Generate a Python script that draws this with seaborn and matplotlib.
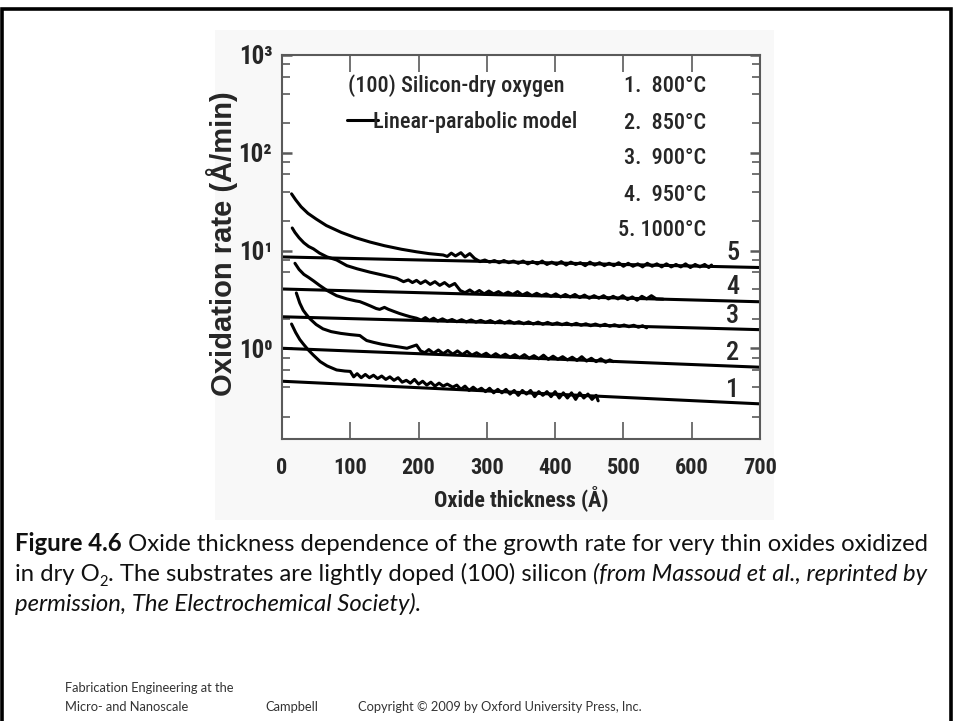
import matplotlib
matplotlib.use("Agg")
import matplotlib.pyplot as plt
import numpy as np
import pandas as pd
import seaborn as sns
from matplotlib.lines import Line2D
from matplotlib.patches import Rectangle
from matplotlib.ticker import FixedLocator, LogLocator, NullFormatter

# ---------------------------------------------------------------- data
temps = ["800°C", "850°C", "900°C", "950°C", "1000°C"]
curve_ids = ["1", "2", "3", "4", "5"]

# measured oxidation rate (Å/min) versus oxide thickness (Å)
x_800 = [14, 20, 26, 31, 38, 46, 56, 66, 80, 92, 100, 105, 110, 116, 122, 128, 134, 140, 146, 152,
         158, 164, 170, 176, 182, 188, 194, 200, 206, 212, 218, 224, 230, 236, 242, 250, 256, 262,
         268, 274, 280, 286, 292, 298, 304, 310, 316, 322, 328, 334, 340, 346, 352, 358, 364, 370,
         376, 382, 388, 394, 400, 406, 412, 418, 424, 430, 436, 442, 448, 454, 460, 463]
r_800 = [1.77, 1.45, 1.23, 1.11, 0.97, 0.85, 0.73, 0.66, 0.60, 0.585, 0.58, 0.51, 0.55, 0.50, 0.54,
         0.50, 0.53, 0.49, 0.52, 0.48, 0.51, 0.47, 0.50, 0.45, 0.47, 0.44, 0.48, 0.43, 0.46, 0.42,
         0.45, 0.41, 0.44, 0.41, 0.43, 0.40, 0.42, 0.38, 0.41, 0.37, 0.40, 0.37, 0.39, 0.36, 0.39,
         0.35, 0.38, 0.35, 0.38, 0.34, 0.37, 0.33, 0.37, 0.34, 0.37, 0.32, 0.36, 0.33, 0.36, 0.32,
         0.36, 0.31, 0.35, 0.31, 0.35, 0.30, 0.35, 0.31, 0.34, 0.30, 0.33, 0.29]

x_850 = [21, 26, 31, 36, 41, 50, 60, 72, 86, 100, 114, 119, 124, 134, 146, 160, 172, 183, 190, 197,
         203, 209, 215, 222, 229, 236, 243, 250, 257, 264, 271, 278, 285, 292, 299, 306, 313, 320,
         327, 334, 341, 348, 355, 362, 369, 376, 383, 390, 397, 404, 411, 418, 425, 432, 439, 446,
         453, 460, 467, 474, 480, 485]
r_850 = [3.68, 2.9, 2.45, 2.2, 2.0, 1.75, 1.58, 1.48, 1.42, 1.38, 1.35, 1.27, 1.20, 1.15, 1.10, 1.06,
         1.03, 1.0, 1.04, 1.08, 0.94, 0.90, 0.97, 0.89, 0.96, 0.88, 0.95, 0.87, 0.94, 0.86, 0.93,
         0.85, 0.90, 0.84, 0.89, 0.82, 0.88, 0.82, 0.87, 0.81, 0.86, 0.80, 0.86, 0.79, 0.84, 0.78,
         0.85, 0.77, 0.83, 0.77, 0.82, 0.76, 0.81, 0.75, 0.82, 0.74, 0.79, 0.73, 0.78, 0.72, 0.76,
         0.73]

x_900 = [19, 25, 32, 39, 46, 55, 66, 80, 95, 108, 114, 122, 130, 138, 143, 150, 156, 164, 172, 180,
         188, 197, 204, 210, 216, 222, 228, 235, 242, 249, 256, 263, 270, 277, 284, 291, 298, 305,
         312, 319, 326, 333, 340, 347, 354, 361, 368, 375, 382, 389, 396, 403, 410, 417, 424, 431,
         438, 445, 452, 459, 466, 473, 480, 487, 494, 501, 508, 515, 522, 528, 534]
r_900 = [7.4, 6.4, 5.7, 5.3, 4.9, 4.4, 3.9, 3.45, 3.2, 3.05, 3.0, 2.85, 2.7, 2.55, 2.5, 2.62, 2.5,
         2.38, 2.27, 2.18, 2.1, 2.03, 1.94, 2.06, 1.92, 2.03, 1.90, 2.0, 1.89, 1.97, 1.87, 1.96,
         1.86, 1.95, 1.85, 1.93, 1.84, 1.92, 1.82, 1.91, 1.81, 1.90, 1.80, 1.87, 1.78, 1.86, 1.77,
         1.85, 1.76, 1.84, 1.75, 1.82, 1.74, 1.81, 1.73, 1.80, 1.72, 1.78, 1.70, 1.77, 1.69, 1.76,
         1.68, 1.74, 1.67, 1.73, 1.66, 1.72, 1.64, 1.70, 1.62]

x_950 = [15, 19, 25, 32, 39, 46, 55, 66, 80, 95, 110, 129, 148, 168, 178, 185, 191, 197, 203, 210,
         217, 224, 231, 238, 245, 253, 261, 268, 275, 282, 289, 296, 303, 310, 317, 324, 331, 338,
         345, 352, 359, 366, 373, 380, 387, 394, 401, 408, 415, 422, 429, 436, 443, 450, 457, 464,
         471, 478, 485, 492, 499, 506, 513, 520, 527, 534, 541, 548, 558]
r_950 = [17.0, 15.3, 13.5, 12.0, 11.0, 10.4, 9.4, 8.6, 8.0, 7.0, 6.5, 6.0, 5.6, 5.2, 4.8, 5.0, 4.7,
         4.95, 4.6, 4.9, 4.5, 4.8, 4.4, 4.7, 4.3, 4.6, 3.9, 3.7, 3.95, 3.65, 3.9, 3.6, 3.85, 3.6,
         3.8, 3.55, 3.75, 3.55, 3.8, 3.5, 3.7, 3.45, 3.65, 3.45, 3.6, 3.4, 3.6, 3.35, 3.55, 3.35,
         3.55, 3.3, 3.5, 3.25, 3.45, 3.25, 3.45, 3.2, 3.4, 3.2, 3.45, 3.15, 3.35, 3.1, 3.4, 3.2,
         3.45, 3.2, 3.18]

x_1000 = [14, 20, 28, 38, 50, 65, 87, 108, 129, 150, 175, 197, 215, 236, 242, 248, 254, 262, 268,
          275, 282, 290, 297, 304, 311, 318, 325, 332, 339, 346, 353, 360, 367, 374, 381, 388, 395,
          402, 409, 416, 423, 430, 437, 444, 451, 458, 465, 472, 479, 486, 493, 500, 507, 514, 521,
          528, 535, 542, 549, 556, 563, 570, 577, 584, 591, 598, 605, 612, 619, 625, 629]
r_1000 = [38, 33, 28, 24, 21, 18, 15.3, 13.5, 12.2, 11.2, 10.3, 9.7, 9.3, 9.0, 8.7, 9.4, 8.8, 9.5,
          8.6, 9.3, 8.3, 7.7, 8.0, 7.6, 7.9, 7.5, 7.9, 7.5, 7.8, 7.4, 7.8, 7.3, 7.7, 7.3, 7.8, 7.2,
          7.6, 7.2, 7.7, 7.1, 7.6, 7.2, 7.5, 7.0, 7.6, 7.1, 7.5, 7.0, 7.4, 7.0, 7.5, 6.9, 7.4, 6.9,
          7.3, 6.8, 7.4, 6.9, 7.3, 6.8, 7.3, 6.8, 7.2, 6.8, 7.3, 6.7, 7.2, 6.8, 7.2, 6.7, 7.1]

# linear-parabolic model rate at 0 Å and 700 Å
model_x = [0, 700]
model_800 = [0.46, 0.27]
model_850 = [1.0, 0.64]
model_900 = [2.1, 1.55]
model_950 = [4.04, 2.99]
model_1000 = [8.6, 6.7]

x_ticks = [0, 100, 200, 300, 400, 500, 600, 700]
y_ticks = [1, 10, 100, 1000]
y_tick_labels = ["10\u2070", "10\u00b9", "10\u00b2", "10\u00b3"]

meas = pd.concat([
    pd.DataFrame({"thickness": xs, "rate": rs, "curve": cid})
    for xs, rs, cid in zip([x_800, x_850, x_900, x_950, x_1000],
                           [r_800, r_850, r_900, r_950, r_1000], curve_ids)
], ignore_index=True)
model = pd.concat([
    pd.DataFrame({"thickness": model_x, "rate": rs, "curve": cid})
    for rs, cid in zip([model_800, model_850, model_900, model_950, model_1000], curve_ids)
], ignore_index=True)

# ---------------------------------------------------------------- style
sns.set_theme(style="white")
NARROW = ["Roboto Condensed", "Noto Sans Condensed", "DejaVu Sans Condensed", "DejaVu Sans"]
plt.rcParams["font.family"] = NARROW
plt.rcParams["font.stretch"] = "condensed"

W, H = 954, 721
fig = plt.figure(figsize=(W / 100, H / 100), dpi=100)
fig.patch.set_facecolor("white")


def fx(px):
    return px / W


def fy(py):
    return 1 - py / H


# slide frame and the panel behind the figure
fig.add_artist(Rectangle((fx(2), fy(760)), fx(949), fy(9) - fy(760), transform=fig.transFigure,
                         fill=False, lw=2.6, ec="black"))
fig.add_artist(Rectangle((fx(215), fy(520)), fx(774) - fx(215), fy(30) - fy(520),
                         transform=fig.transFigure, fc="#f8f8f8", ec="none", zorder=0))

ax = fig.add_axes([fx(282), fy(439), fx(760) - fx(282), fy(55) - fy(439)])
ax.set_facecolor("white")

line_kw = dict(color="black", linewidth=2.2, estimator=None, sort=False, legend=False)
sns.lineplot(data=model, x="thickness", y="rate", units="curve", ax=ax, **line_kw)
sns.lineplot(data=meas, x="thickness", y="rate", units="curve", ax=ax, **line_kw)

ax.set_yscale("log")
ax.set_xlim(0, 700)
ax.set_ylim(0.118, 1000)

ax.xaxis.set_major_locator(FixedLocator(x_ticks))
ax.set_yticks(y_ticks)
ax.set_yticklabels(y_tick_labels)
ax.yaxis.set_minor_locator(LogLocator(base=10, subs=(2, 4, 6, 8), numticks=10))
ax.yaxis.set_minor_formatter(NullFormatter())

for s in ax.spines.values():
    s.set_color("#5a5a5a")
    s.set_linewidth(1.5)

ax.tick_params(axis="x", which="major", direction="in", length=12, width=1.2, color="#5a5a5a",
               top=True, bottom=True, pad=13, labelsize=16)
ax.tick_params(axis="y", which="major", direction="in", length=7, width=1.8, color="#5a5a5a",
               left=True, right=True, pad=7, labelsize=18)
ax.tick_params(axis="y", which="minor", direction="in", length=6, width=1.2, color="#5a5a5a",
               left=True, right=True)
for lab in ax.get_xticklabels() + ax.get_yticklabels():
    lab.set_fontweight("bold")

ax.set_xlabel("Oxide thickness (Å)", fontsize=16, fontweight="bold", labelpad=4)
ax.set_ylabel("Oxidation rate (Å/min)", fontsize=21, fontweight="bold",
              family=["Liberation Sans", "DejaVu Sans"], fontstretch="normal")
ax.yaxis.set_label_coords(-0.092, 0.51)

# annotations inside the plot
INNER = dict(fontsize=16, fontweight="medium")
ax.text(0.138, 0.919, "(100) Silicon-dry oxygen", transform=ax.transAxes, va="center",
        ha="left", **INNER)
ax.legend(handles=[Line2D([], [], color="black", lw=2.2)], labels=["Linear-parabolic model"],
          loc="center left", bbox_to_anchor=(0.118, 0.826), frameon=False, handlelength=1.4,
          handletextpad=-0.25, borderaxespad=0,
          prop={"family": NARROW, "size": 16, "stretch": "condensed", "weight": "medium"})

temp_y = [0.919, 0.823, 0.732, 0.635, 0.544]
for cid, t, yy in zip(curve_ids, temps, temp_y):
    sep = "  " if len(t) < 6 else " "
    ax.text(0.887, yy, f"{cid}.{sep}{t}", transform=ax.transAxes, va="center", ha="right",
            **INNER)

num_y = [0.128, 0.224, 0.320, 0.396, 0.484]
for cid, yy in zip(curve_ids, num_y):
    ax.text(0.943, yy, cid, transform=ax.transAxes, fontsize=19, fontweight="medium",
            va="center", ha="center")

# caption set in runs of mixed weight and style
CAP = ["Lato", "DejaVu Sans"]
renderer = fig.canvas.get_renderer()


def runs(x0, y0, parts, size=17.2):
    x = x0
    for text, style in parts:
        kw = dict(fontsize=size, family=CAP, fontstretch="normal", va="baseline", ha="left",
                  color="#111111")
        dy = 0
        if style == "bold":
            kw["fontweight"] = "bold"
        elif style == "italic":
            kw["fontstyle"] = "italic"
        elif style == "sub":
            kw["fontsize"] = size * 0.62
            dy = 5
        t = fig.text(fx(x), fy(y0 + dy), text, **kw)
        bb = t.get_window_extent(renderer=renderer)
        x = x + bb.width


runs(15, 551, [("Figure 4.6", "bold"),
               (" Oxide thickness dependence of the growth rate for very thin oxides oxidized",
                "normal")])
runs(15, 581, [("in dry O", "normal"), ("2", "sub"),
               (". The substrates are lightly doped (100) silicon ", "normal"),
               ("(from Massoud et al., reprinted by", "italic")])
runs(15, 611, [("permission, The Electrochemical Society).", "italic")])

foot = dict(fontsize=9.3, family=CAP, fontstretch="normal", color="#333333", va="baseline")
fig.text(fx(65), fy(692), "Fabrication Engineering at the", **foot)
fig.text(fx(65), fy(711), "Micro- and Nanoscale", **foot)
fig.text(fx(265), fy(711), "Campbell", **foot)
fig.text(fx(358), fy(711), "Copyright © 2009 by Oxford University Press, Inc.", **foot)

fig.savefig("out.png", dpi=100, facecolor="white")
